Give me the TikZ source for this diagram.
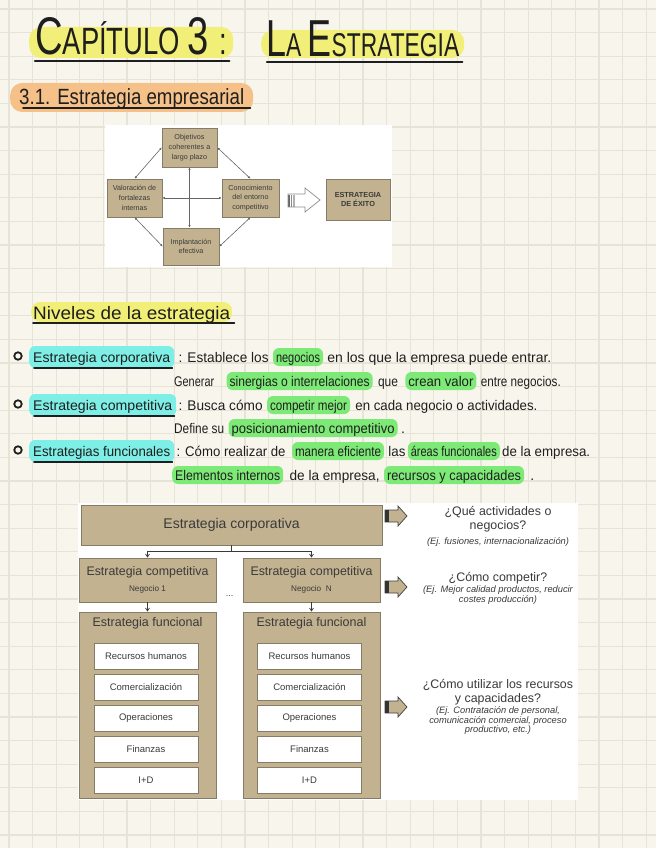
\documentclass[tikz,border=0pt]{standalone}
\usepackage{fontspec}
\setmainfont{Liberation Sans}
\usetikzlibrary{positioning,arrows.meta}
\definecolor{paper}{HTML}{F8F6EC}
\definecolor{gridc}{HTML}{E6E3D7}
\definecolor{ink}{HTML}{1E1E1E}
\definecolor{hlyel}{HTML}{F2EF78}
\definecolor{hlora}{HTML}{F5C189}
\definecolor{hlcya}{HTML}{7EEFE6}
\definecolor{hlgre}{HTML}{7DE976}
\definecolor{boxfill}{HTML}{C2B28F}
\definecolor{boxline}{HTML}{857B69}
\definecolor{dtext}{HTML}{3A3A3A}
\newcommand{\fitw}[2]{\resizebox{#1}{\height}{#2}}

\begin{document}
\begin{tikzpicture}[x=1pt, y=-1pt, node distance=4pt,
    hand/.style={inner sep=0pt, anchor=base west, font=\fontsize{14}{14}\selectfont, text=ink},
    cyanmark/.style={hand, fill=hlcya, rounded corners=6pt, inner xsep=4pt, text height=16pt, text depth=6pt},
    greenmark/.style={hand, fill=hlgre, rounded corners=6pt, inner xsep=3pt, text height=14pt, text depth=4pt},
    uline/.style={draw=ink, line width=1.6pt, line cap=round},
    bul/.style={circle, draw=ink, line width=1.8pt, minimum size=7.5pt, inner sep=0pt},
    box/.style={draw=boxline, fill=boxfill, line width=0.8pt, text=dtext},
    sbox/.style={box, line width=0.6pt, align=center, font=\fontsize{7.2}{9.7}\selectfont},
    sub/.style={draw=boxline, fill=white, line width=0.8pt, minimum width=104pt, minimum height=26pt,
      font=\fontsize{9.5}{11}\selectfont, text=dtext},
    ttl/.style={text=dtext, font=\fontsize{12.5}{14}\selectfont},
    qtxt/.style={text=dtext, align=center, inner sep=0pt, font=\fontsize{12.4}{14.3}\selectfont},
    etxt/.style={text=dtext, align=center, inner sep=0pt, font=\fontsize{9.3}{9.5}\itshape},
    conn/.style={draw=dtext, line width=0.7pt, -{Straight Barb[length=3pt,width=4pt]}},
    dbl/.style={draw=black!60, line width=0.6pt, {Latex[length=2.5pt,width=2.2pt]}-{Latex[length=2.5pt,width=2.2pt]}},
    blk/.style={draw=black!75, fill=boxfill, line width=0.7pt}
  ]
  % paper and grid
  \useasboundingbox (0,0) rectangle (656,848);
  \fill[paper] (0,0) rectangle (656,848);
  \foreach \k in {0,...,27}
    \draw[gridc, line width=1.3pt] (9+23.6*\k,0) -- (9+23.6*\k,848);
  \foreach \k in {0,...,35}
    \draw[gridc, line width=1.3pt] (0,9+23.6*\k) -- (656,9+23.6*\k);

  % titles
  \node[hand, fill=hlyel, rounded corners=12pt, inner xsep=6pt, text height=28pt, text depth=3pt] (cap) at (29,55)
    {\fitw{192pt}{\fontsize{53}{53}\selectfont C\fontsize{38}{38}\selectfont APÍTULO\ \fontsize{53}{53}\selectfont 3\ \fontsize{38}{38}\selectfont :}};
  \node[hand, fill=hlyel, rounded corners=12pt, inner xsep=5pt, text height=27pt, text depth=1pt] (estr) at (261,57)
    {\fitw{193pt}{\fontsize{52}{52}\selectfont L\fontsize{33}{33}\selectfont A \fontsize{52}{52}\selectfont E\fontsize{33}{33}\selectfont STRATEGIA}};
  \draw[uline, line width=2.2pt] ([xshift=6pt,yshift=-3pt]cap.south west) -- ([xshift=-4pt,yshift=-3pt]cap.south east);
  \draw[uline, line width=2.2pt] ([xshift=6pt,yshift=-4pt]estr.south west) -- ([xshift=-2pt,yshift=-4pt]estr.south east);

  \node[hand, fill=hlora, rounded corners=12pt, inner xsep=9pt, text height=22pt, text depth=7pt] (sec) at (10,105)
    {\fitw{225pt}{\fontsize{22}{22}\selectfont 3.1. Estrategia empresarial}};
  \draw[uline] ([xshift=13pt,yshift=4pt]sec.south west) -- ([xshift=-3pt,yshift=4pt]sec.south east);

  % diagram 1
  \fill[white] (105,125) rectangle (392,267);
  \node[sbox, minimum width=55pt, minimum height=39pt] (obj) at (189.5,147.5) {Objetivos\\coherentes a\\largo plazo};
  \node[sbox, minimum width=55pt, minimum height=38pt] (val) at (134.5,198) {Valoración de\\fortalezas\\internas};
  \node[sbox, minimum width=57pt, minimum height=38pt] (con) at (250.5,198) {Conocimiento\\del entorno\\competitivo};
  \node[sbox, minimum width=56pt, minimum height=37pt] (imp) at (191,246.5) {Implantación\\efectiva};
  \node[sbox, minimum width=64pt, minimum height=41pt, font=\fontsize{7.3}{9.7}\selectfont\bfseries] (exi) at (358,199.5) {ESTRATEGIA\\DE ÉXITO};
  \draw[dbl] (obj.west) -- (val.north);
  \draw[dbl] (obj.east) -- (con.north);
  \draw[dbl] (val.south) -- (imp.west);
  \draw[dbl] (con.south) -- (imp.east);
  \draw[dbl] (obj.south) -- (obj.south |- imp.north);
  \draw[dbl] (val.east) -- (con.west);
  \fill[white] (288,194) -- (305,194) -- (305,188) -- (320,200) -- (305,212) -- (305,207) -- (288,207) -- cycle;
  \foreach \i/\c in {0/60,2.5/45,5/30}
    \draw[black!\c, line width=1.2pt] (289+\i,194.5) -- (289+\i,206.5);
  \draw[black!45, line width=0.7pt] (288,194) -- (305,194) -- (305,188) -- (320,200) -- (305,212) -- (305,207) -- (288,207) -- cycle;

  % levels
  \node[hand, fill=hlyel, rounded corners=9pt, inner xsep=2pt, text height=17pt, text depth=3pt] (niv) at (31,319)
    {\fitw{197pt}{\fontsize{18}{18}\selectfont Niveles de la estrategia}};
  \draw[uline] ([xshift=2pt,yshift=-1pt]niv.south west) -- ([xshift=2pt,yshift=-1pt]niv.south east);

  \node[bul] (b1) at (18,356) {};
  \node[cyanmark] (c1) at (29,362) {\fitw{137pt}{Estrategia corporativa}};
  \node[hand, base right=of c1] (t1a) {\fitw{90pt}{: Establece los}};
  \node[greenmark, base right=of t1a] (g1a) {\fitw{44pt}{negocios}};
  \node[hand, base right=of g1a] (t1b) {\fitw{224pt}{en los que la empresa puede entrar.}};

  \node[hand] (t2a) at (174,386) {\fitw{40pt}{Generar}};
  \node[greenmark, base right=12pt of t2a] (g2a) {\fitw{140pt}{sinergias o interrelaciones}};
  \node[hand, base right=5pt of g2a] (t2b) {\fitw{20pt}{que}};
  \node[greenmark, base right=7pt of t2b] (g2b) {\fitw{65pt}{crean valor}};
  \node[hand, base right=of g2b] (t2c) {\fitw{80pt}{entre negocios.}};

  \node[bul] (b2) at (18,404) {};
  \node[cyanmark] (c2) at (29,410) {\fitw{139pt}{Estrategia competitiva}};
  \node[hand, base right=2pt of c2] (t3a) {\fitw{84pt}{: Busca cómo}};
  \node[greenmark, base right=of t3a] (g3a) {\fitw{77pt}{competir mejor}};
  \node[hand, base right=5pt of g3a] (t3b) {\fitw{182pt}{en cada negocio o actividades.}};

  \node[hand] (t4a) at (174,433) {\fitw{50pt}{Define su}};
  \node[greenmark, base right=of t4a] (g4a) {\fitw{163pt}{posicionamiento competitivo}};
  \node[hand, base right=3pt of g4a] (t4b) {.};

  \node[bul] (b3) at (18,450) {};
  \node[cyanmark] (c3) at (29,456) {\fitw{137pt}{Estrategias funcionales}};
  \node[hand, base right=2pt of c3] (t5a) {\fitw{109pt}{: Cómo realizar de}};
  \node[greenmark, base right=6pt of t5a] (g5a) {\fitw{86pt}{manera eficiente}};
  \node[hand, base right=of g5a] (t5b) {\fitw{17pt}{las}};
  \node[greenmark, base right=2pt of t5b] (g5b) {\fitw{86pt}{áreas funcionales}};
  \node[hand, base right=2pt of g5b] (t5c) {\fitw{88pt}{de la empresa.}};

  \node[greenmark] (g6a) at (172,480) {\fitw{105pt}{Elementos internos}};
  \node[hand, base right=6pt of g6a] (t6a) {\fitw{90pt}{de la empresa,}};
  \node[greenmark, base right=of t6a] (g6b) {\fitw{134pt}{recursos y capacidades}};
  \node[hand, base right=6pt of g6b] (t6b) {.};

  \foreach \c in {c1,c2,c3}
    \draw[uline] ([xshift=5pt]\c.south west) -- ([xshift=-2pt]\c.south east);

  % diagram 2
  \fill[white] (78,503) rectangle (578,800);
  \node[box, minimum width=301pt, minimum height=40pt, font=\fontsize{14}{16}\selectfont] (corp) at (231.5,525) {Estrategia corporativa};
  \node[box, minimum width=137pt, minimum height=44pt, align=center, font=\fontsize{12.4}{16}\selectfont] (comp1) at (147.5,580)
    {Estrategia competitiva\\{\fontsize{8.2}{10}\selectfont Negocio 1}};
  \node[box, minimum width=137pt, minimum height=44pt, align=center, font=\fontsize{12.4}{16}\selectfont] (compN) at (311.5,580)
    {Estrategia competitiva\\{\fontsize{8.2}{10}\selectfont Negocio\ \ N}};
  \node[text=dtext, font=\fontsize{9}{10}\selectfont] (dots) at (229.5,596) {...};
  \node[box, minimum width=137pt, minimum height=186pt] (func1) at (147.5,705) {};
  \node[box, minimum width=137pt, minimum height=186pt] (funcN) at (311.5,705) {};
  \node[ttl] (func1t) at (147.5,623) {Estrategia funcional};
  \node[ttl] (funcNt) at (311.5,623) {Estrategia funcional};
  \foreach \t [count=\i] in {Recursos humanos,Comercialización,Operaciones,Finanzas,I+D} {
    \node[sub] (fa\i) at (146,625+31*\i) {\t};
    \node[sub] (fb\i) at (309.5,625+31*\i) {\t};
  }
  \draw[conn] (corp.south) -- ++(0,6) -| (comp1.north);
  \draw[conn] (corp.south) -- ++(0,6) -| (compN.north);
  \draw[conn] (comp1.south) -- (func1.north);
  \draw[conn] (compN.south) -- (funcN.north);

  \foreach \y in {516,587,707} {
    \draw[blk] (385,\y-6) -- (398,\y-6) -- (398,\y-10) -- (407,\y) -- (398,\y+10) -- (398,\y+6) -- (385,\y+6) -- cycle;
    \fill[black!80] (385,\y-6) rectangle (388.5,\y+6);
  }
  \node[qtxt] (q1) at (498,519) {¿Qué actividades o\\negocios?};
  \node[etxt] (e1) at (498,542) {(Ej. fusiones, internacionalización)};
  \node[qtxt] (q2) at (498,578) {¿Cómo competir?};
  \node[etxt] (e2) at (498,595) {(Ej. Mejor calidad productos, reducir\\costes producción)};
  \node[qtxt] (q3) at (498,692) {¿Cómo utilizar los recursos\\y capacidades?};
  \node[etxt] (e3) at (498,721) {(Ej. Contratación de personal,\\comunicación comercial, proceso\\productivo, etc.)};
\end{tikzpicture}
\end{document}
